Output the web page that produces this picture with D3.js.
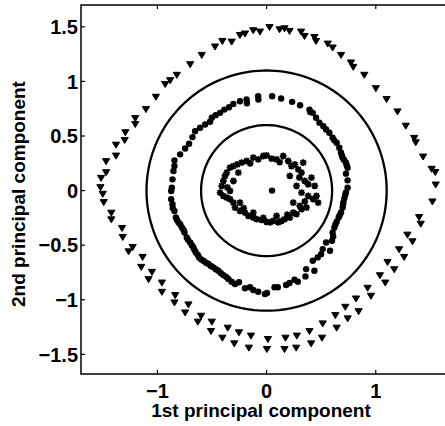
<!DOCTYPE html>
<html><head><meta charset="utf-8">
<script src="https://cdn.jsdelivr.net/npm/d3@7"></script>
<style>html,body{margin:0;padding:0;background:#fff;}svg{display:block;}</style>
</head><body>
<svg id="c" width="445" height="426"></svg>
<script>
// ---- data ----
const xTicks = [-1, 0, 1];
const yTicks = [-1.5, -1, -0.5, 0, 0.5, 1, 1.5];
const xLabel = "1st principal component";
const yLabel = "2nd principal component";
const circleRadii = [0.6, 1.1];
const centerPoint = [[0.05, 0]];
const stars = [
[-0.365,0.164],[-0.335,0.210],[-0.304,0.225],[-0.268,0.240],[-0.228,0.256],[-0.183,0.271],[-0.122,0.301],[-0.076,0.286],
[-0.030,0.317],[0.000,0.323],[0.046,0.292],[0.091,0.286],[0.152,0.317],[0.198,0.271],[0.228,0.225],[0.259,0.240],
[0.289,0.195],[0.320,0.164],[0.335,0.256],[0.350,0.088],[0.381,0.058],[0.411,0.119],[0.441,0.043],[0.457,-0.049],
[0.472,-0.110],[0.426,-0.079],[0.381,-0.049],[0.365,-0.155],[0.320,-0.170],[0.304,-0.140],[0.274,-0.216],[0.244,-0.201],
[0.213,-0.247],[0.167,-0.262],[0.137,-0.277],[0.107,-0.292],[0.061,-0.277],[0.030,-0.292],[0.000,-0.286],[-0.046,-0.268],
[-0.091,-0.262],[-0.122,-0.247],[-0.167,-0.231],[-0.198,-0.201],[-0.244,-0.186],[-0.289,-0.155],[-0.304,-0.110],[-0.335,-0.079],
[-0.365,-0.064],[-0.396,-0.049],[-0.426,-0.018],[-0.411,0.043],[-0.396,0.088],[-0.381,0.134],
[-0.304,0.088],[-0.259,0.164],[0.213,0.134],[0.274,0.043],[0.320,-0.018],[0.244,-0.110],[0.091,-0.231],[-0.122,-0.201],
[-0.244,-0.110],[-0.335,-0.003],[-0.150,0.250],[0.120,0.260],[0.300,0.120],[0.350,-0.100],[0.190,-0.220],[-0.030,-0.250],
[-0.210,-0.160],[-0.360,0.030]
];
const dots = [
[-0.077,0.864],[-0.183,0.834],[-0.244,0.818],[-0.305,0.794],[-0.344,0.764],[-0.387,0.742],[-0.426,0.712],[-0.466,0.691],
[-0.502,0.667],[-0.518,0.630],[-0.563,0.606],[-0.609,0.575],[-0.655,0.544],[-0.679,0.490],[-0.710,0.429],[-0.746,0.386],
[-0.792,0.332],[-0.844,0.277],[-0.844,0.225],[-0.853,0.179],[-0.862,0.103],[-0.868,0.027],[-0.075,0.835],[-0.180,0.800],
[-0.874,-0.004],[-0.874,-0.079],[-0.862,-0.125],[-0.844,-0.186],[-0.831,-0.247],[-0.807,-0.292],[-0.776,-0.338],[-0.752,-0.384],
[-0.731,-0.429],[-0.700,-0.475],[-0.670,-0.521],[-0.648,-0.566],[-0.618,-0.612],[-0.579,-0.643],[-0.533,-0.673],[-0.488,-0.703],
[-0.442,-0.734],[-0.396,-0.774],[-0.350,-0.810],[-0.289,-0.856],[-0.253,-0.840],[-0.198,-0.895],[-0.152,-0.886],[-0.122,-0.911],
[-0.077,-0.926],[-0.015,-0.947],
[-0.86,-0.16],[-0.82,-0.27],[-0.79,-0.31],[-0.76,-0.36],[-0.72,-0.45],[-0.685,-0.50],[-0.66,-0.545],[-0.63,-0.59],
[-0.60,-0.63],[-0.555,-0.66],[-0.51,-0.69],[-0.465,-0.72],[-0.42,-0.755],[-0.37,-0.79],[-0.32,-0.835],
[0.003,-0.938],[0.073,-0.886],[0.103,-0.886],[0.179,-0.865],[0.210,-0.847],[0.256,-0.816],[0.286,-0.834],[0.356,-0.786],
[0.362,-0.719],[0.438,-0.734],[0.423,-0.643],[0.468,-0.612],[0.499,-0.582],[0.514,-0.536],[0.581,-0.551],[0.545,-0.475],
[0.599,-0.460],[0.605,-0.384],[0.621,-0.338],[0.642,-0.286],[0.660,-0.247],[0.682,-0.201],[0.697,-0.155],[0.703,-0.110],
[0.712,-0.073],[0.727,-0.018],[0.61,-0.42],[0.63,-0.31],[0.70,-0.13],[0.72,-0.04],[0.67,-0.225],
[0.051,0.864],[0.133,0.843],[0.234,0.813],[0.307,0.782],[0.393,0.742],[0.423,0.712],[0.453,0.667],[0.484,0.621],
[0.545,0.560],[0.575,0.530],[0.605,0.484],[0.642,0.438],[0.666,0.392],[0.682,0.347],[0.697,0.301],[0.727,0.255],
[0.742,0.209],[0.727,0.155],[0.742,0.094],[0.742,0.027],[0.40,0.72],[0.52,0.59],[0.62,0.46],[0.69,0.32],[0.71,0.28],[0.735,0.23]
];
const triangles = [
[-1.522,0.027],[-1.516,0.112],[-1.470,0.164],[-1.470,0.265],[-1.379,0.316],[-1.379,0.416],[-1.300,0.459],[-1.294,0.530],
[-1.203,0.605],[-1.203,0.660],[-1.105,0.742],[-1.014,0.855],[-0.929,0.971],[-0.883,1.007],[-0.822,1.056],[-0.700,1.153],
[-0.594,1.238],[-0.472,1.315],[-0.405,1.366],[-0.320,1.360],[-0.244,1.421],[-0.198,1.434],[-0.122,1.464],[-0.061,1.452],
[0.027,1.494],[0.119,1.473],[0.164,1.482],[0.210,1.458],[0.316,1.452],[0.347,1.412],[0.438,1.403],[0.453,1.366],
[0.560,1.342],[0.605,1.306],[0.682,1.238],[0.773,1.169],[0.794,1.129],[0.895,1.056],[1.001,0.934],[1.099,0.834],
[1.199,0.721],[1.275,0.590],[1.352,0.478],[1.366,0.438],[1.434,0.307],[1.512,0.195],[1.545,0.165],[1.549,0.051],
[1.519,-0.104],[1.397,-0.247],[1.412,-0.308],[1.290,-0.408],[1.336,-0.469],[1.214,-0.542],[1.260,-0.612],[1.108,-0.658],
[1.169,-0.725],[1.038,-0.780],[1.087,-0.847],[0.925,-0.895],[0.956,-0.968],[0.819,-0.993],[0.843,-1.109],[0.721,-1.069],
[0.743,-1.175],[0.630,-1.145],[0.642,-1.260],[0.514,-1.221],[0.508,-1.352],[0.393,-1.291],[0.408,-1.404],[0.277,-1.333],
[0.271,-1.443],[0.173,-1.352],[0.164,-1.456],[0.012,-1.364],[0.003,-1.456],
[-1.501,-0.034],[-1.492,-0.110],[-1.422,-0.207],[-1.422,-0.268],[-1.324,-0.347],[-1.318,-0.429],[-1.227,-0.521],[-1.264,-0.561],
[-1.136,-0.612],[-1.148,-0.703],[-1.050,-0.749],[-1.081,-0.816],[-0.959,-0.847],[-0.959,-0.932],[-0.837,-0.962],[-0.844,-1.029],
[-0.716,-1.047],[-0.746,-1.121],[-0.600,-1.151],[-0.630,-1.205],[-0.502,-1.205],[-0.509,-1.291],[-0.356,-1.260],[-0.405,-1.352],
[-0.253,-1.303],[-0.296,-1.404],[-0.143,-1.333],[-0.162,-1.443]
];

// ---- drawing ----
const svg = d3.select("#c");
const L = 81, T = 5, B = 374;
const x = d3.scaleLinear().domain([-1.7, 1.7]).range([L, L + 3.4 * 109.17]);
const y = d3.scaleLinear().domain([-1.68, 1.70]).range([B, T]);
const R = x.range()[1];
const font = "'Liberation Sans', Arial, Helvetica, sans-serif";

svg.append("rect").attr("width", 445).attr("height", 426).attr("fill", "#fff");

// circles
const angles = d3.range(0, 361, 2).map(d => d * Math.PI / 180);
const circLine = d3.line().x(d => x(d[0])).y(d => y(d[1]));
svg.selectAll("path.circ").data(circleRadii).enter().append("path")
  .attr("class", "circ")
  .attr("d", r => circLine(angles.map(a => [r * Math.cos(a), r * Math.sin(a)])))
  .attr("fill", "none").attr("stroke", "#000").attr("stroke-width", 2.3);

// triangles (downward)
const tw = 3.6, th = 3.0;
svg.selectAll("path.tri").data(triangles).enter().append("path")
  .attr("class", "tri")
  .attr("d", d => `M${x(d[0]) - tw},${y(d[1]) - th}L${x(d[0]) + tw},${y(d[1]) - th}L${x(d[0])},${y(d[1]) + th}Z`)
  .attr("fill", "#000").attr("stroke", "#000").attr("stroke-width", 1).attr("stroke-linejoin", "round");

// dots
svg.selectAll("circle.dot").data(dots.concat(centerPoint)).enter().append("circle")
  .attr("class", "dot")
  .attr("cx", d => x(d[0])).attr("cy", d => y(d[1])).attr("r", 3.2).attr("fill", "#000");

// stars (asterisk)
const s = 3.4, s2 = 2.5;
svg.selectAll("path.star").data(stars).enter().append("path")
  .attr("class", "star")
  .attr("d", d => {
    const cx = x(d[0]), cy = y(d[1]);
    return `M${cx - s},${cy}L${cx + s},${cy}M${cx},${cy - s}L${cx},${cy + s}` +
           `M${cx - s2},${cy - s2}L${cx + s2},${cy + s2}M${cx - s2},${cy + s2}L${cx + s2},${cy - s2}`;
  })
  .attr("fill", "none").attr("stroke", "#000").attr("stroke-width", 1.8);

// axes box
svg.append("rect").attr("x", L).attr("y", T).attr("width", R - L).attr("height", B - T)
  .attr("fill", "none").attr("stroke", "#000").attr("stroke-width", 1.5);

const tl = 4;
const fmt = v => (v < 0 ? "\u2212" : "") + String(Math.abs(v));
// x ticks
xTicks.forEach(v => {
  svg.append("line").attr("x1", x(v)).attr("x2", x(v)).attr("y1", B).attr("y2", B - tl).attr("stroke", "#000").attr("stroke-width", 1.2);
  svg.append("line").attr("x1", x(v)).attr("x2", x(v)).attr("y1", T).attr("y2", T + tl).attr("stroke", "#000").attr("stroke-width", 1.2);
});
svg.selectAll("text.xt").data(xTicks).enter().append("text")
  .attr("x", d => x(d)).attr("y", 397.5).attr("text-anchor", "middle")
  .style("font-family", font).style("font-size", "20px").style("font-weight", "bold")
  .text(fmt);
// y ticks
yTicks.forEach(v => {
  svg.append("line").attr("x1", L).attr("x2", L + tl).attr("y1", y(v)).attr("y2", y(v)).attr("stroke", "#000").attr("stroke-width", 1.2);
  svg.append("line").attr("x1", R).attr("x2", R - tl).attr("y1", y(v)).attr("y2", y(v)).attr("stroke", "#000").attr("stroke-width", 1.2);
});
svg.selectAll("text.yt").data(yTicks).enter().append("text")
  .attr("x", L - 3).attr("y", d => y(d)).attr("dy", "0.36em").attr("text-anchor", "end")
  .style("font-family", font).style("font-size", "20px").style("font-weight", "bold")
  .text(fmt);

// labels
svg.append("text").attr("x", 261).attr("y", 417).attr("text-anchor", "middle")
  .style("font-family", font).style("font-size", "19px").style("font-weight", "bold").text(xLabel);
svg.append("text").attr("transform", "translate(25,194) rotate(-90)").attr("text-anchor", "middle")
  .style("font-family", font).style("font-size", "19px").style("font-weight", "bold").text(yLabel);
</script>
</body></html>
